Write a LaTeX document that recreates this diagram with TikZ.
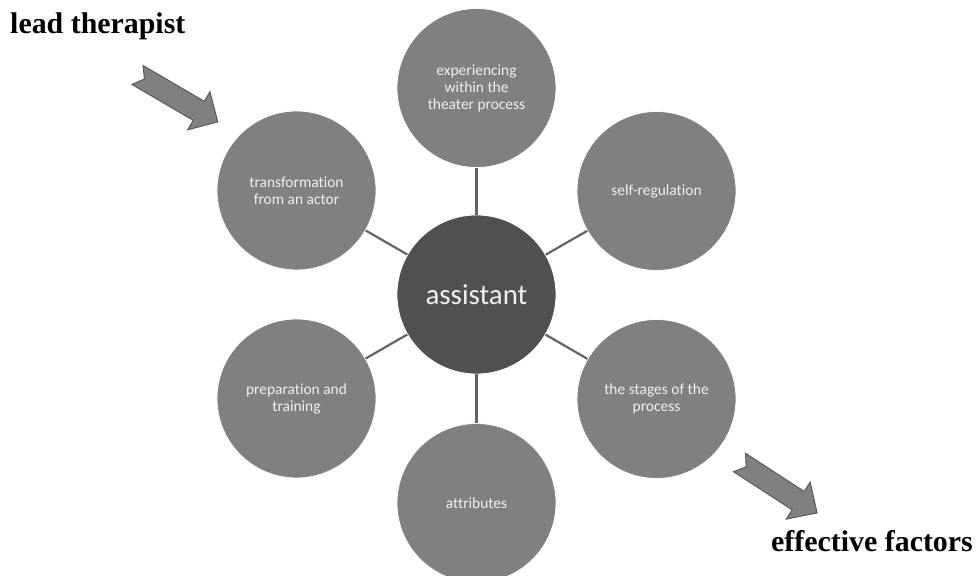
\documentclass[tikz,border=0pt]{standalone}
\usepackage{fontspec}
\setmainfont{Liberation Serif}
\newfontfamily\circfont[RawFeature=-liga]{Carlito}

\definecolor{circgray}{HTML}{808080}
\definecolor{hubgray}{HTML}{505050}
\definecolor{linkgray}{HTML}{646464}
\definecolor{arrowedge}{HTML}{5A5A5A}

\begin{document}
\begin{tikzpicture}[
	x=1bp, y=-1bp
	,n/.style={circle, fill=circgray, draw=white, line width=.8bp, minimum size=159bp, inner sep=0pt, align=center, text=white!94!black, font={\circfont\fontsize{15.5}{17}\selectfont}}
	,hub/.style={n, fill=hubgray, font={\circfont\fontsize{29}{32}\selectfont}}
	,link/.style={linkgray, line width=2.2bp}
	,bigarrow/.style={fill=circgray, draw=arrowedge, line width=1bp, line join=miter}
	,caption/.style={font={\bfseries\fontsize{30}{34}\selectfont}, inner sep=0pt}
]
	\useasboundingbox (0,0) rectangle (979,576);

	\node[hub] (C) at (476.5,294.5) {assistant};
	\node[n] (T) at (476.5,88) {experiencing\\within the\\theater process};
	\node[n] (TR) at (656.5,191) {self-regulation};
	\node[n] (BR) at (656.5,399) {the stages of the\\process};
	\node[n] (B) at (476.5,503) {attributes};
	\node[n] (BL) at (296.5,398.5) {preparation and\\training};
	\node[n] (TL) at (296.5,190.5) {transformation\\from an actor};

	\draw[link] (C) -- (T);
	\draw[link] (C) -- (TR);
	\draw[link] (C) -- (BR);
	\draw[link] (C) -- (B);
	\draw[link] (C) -- (BL);
	\draw[link] (C) -- (TL);

	\node[caption, anchor=base west] (L) at (10,34) {lead therapist};
	\node[caption, anchor=base west] (E) at (771,551) {effective factors};

	\draw[bigarrow, shift={(137.5,75)}, rotate=-30.3]
		(0,11) -- (71,11) -- (71,22) -- (93,0) -- (71,-22) -- (71,-11) -- (0,-11) -- (8,0) -- cycle;
	\draw[bigarrow, shift={(739.5,462.5)}, rotate=-33]
		(0,11) -- (70,11) -- (70,22) -- (92.5,0) -- (70,-22) -- (70,-11) -- (0,-11) -- (8,0) -- cycle;
\end{tikzpicture}
\end{document}
